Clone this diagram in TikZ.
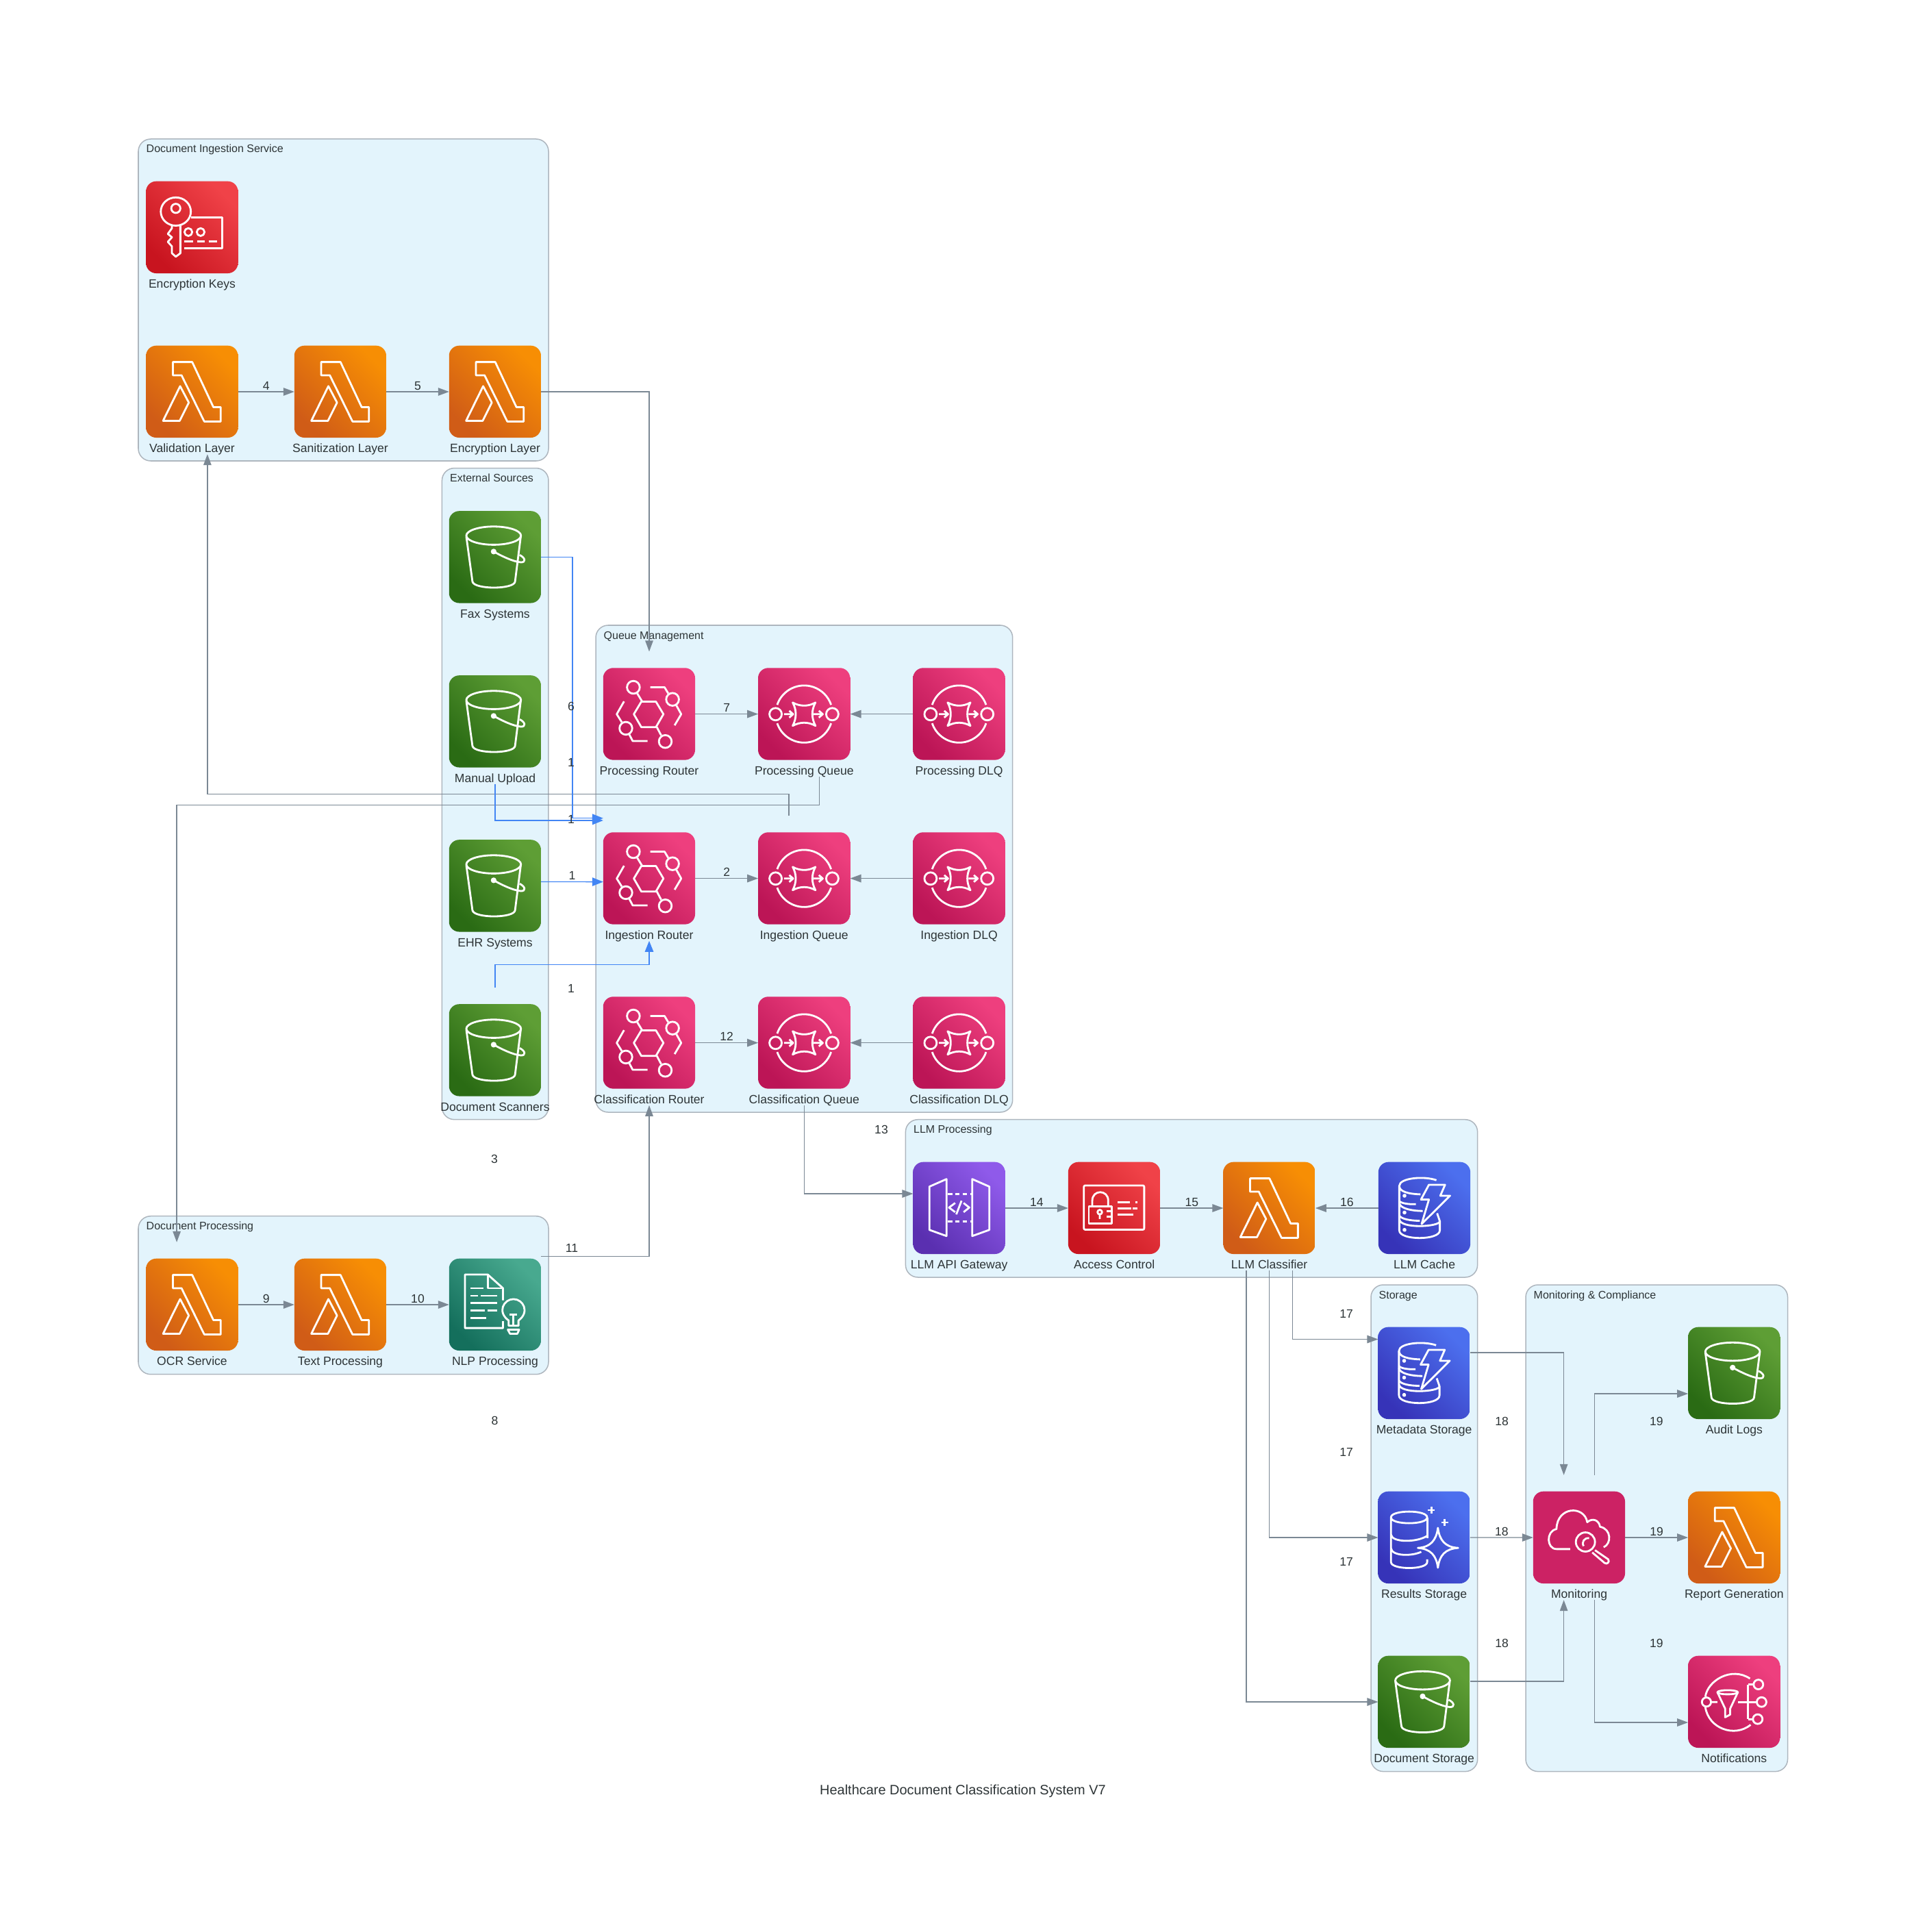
\documentclass[tikz,border=0pt]{standalone}
\usepackage{fontspec}
\setmainfont{Liberation Sans}
\usetikzlibrary{positioning,calc,arrows.meta}
\definecolor{inktext}{HTML}{2D3436}
\definecolor{edgegray}{HTML}{7B8894}
\definecolor{feedblue}{HTML}{4285F4}
\definecolor{clusterfill}{HTML}{E3F4FC}
\definecolor{clusterline}{HTML}{AEB6BE}
\newcommand{\lambdaglyph}{
  \draw[glyph] (118,72) -- (203,72) -- (296,270) -- (328,270) -- (328,333) -- (256,333) -- (156,130) -- (118,130) -- cycle;
  \draw[glyph] (150,178) -- (75,330) -- (148,330) -- (188,250) -- cycle;
}
\newcommand{\bucketglyph}{
  \draw[glyph] (196,108) ellipse[x radius=120,y radius=40];
  \draw[glyph] (76,112) -- (103,310) .. controls (110,345) and (285,345) .. (290,310) -- (315,112);
  \draw[glyph,fill=white] (196,178) circle[radius=8];
  \draw[glyph] (196,178) .. controls (230,197) and (280,222) .. (315,225) .. controls (340,226) and (335,205) .. (310,193);
}
\newcommand{\routerglyph}{
  \draw[glyph] (232,148) -- (265,203) -- (232,260) -- (168,260) -- (135,203) -- (168,148) -- cycle;
  \draw[glyph] (133,85) circle[radius=28] (305,138) circle[radius=28] (100,265) circle[radius=28] (273,323) circle[radius=28];
  \draw[glyph] (150,112) -- (172,148) (236,260) -- (255,296);
  \draw[glyph] (207,85) -- (270,85) -- (286,112) (322,165) -- (343,203) -- (314,252);
  \draw[glyph] (92,147) -- (60,203) -- (82,238) (115,292) -- (130,321) -- (195,321);
}
\newcommand{\queueglyph}{
  \draw[glyph] (84,162) arc[start angle=198.7,end angle=341.3,radius=125];
  \draw[glyph] (84,243) arc[start angle=161.3,end angle=18.7,radius=125];
  \draw[glyph] (77,203) circle[radius=27] (326,203) circle[radius=27];
  \draw[glyph] (152,152) .. controls (185,170) and (220,170) .. (252,152) .. controls (234,185) and (234,220) .. (252,254) .. controls (220,236) and (185,236) .. (152,254) .. controls (170,220) and (170,185) .. (152,152) -- cycle;
  \draw[glyph] (114,203) -- (152,203) (137,188) -- (154,203) -- (137,218);
  \draw[glyph] (244,203) -- (284,203) (267,188) -- (284,203) -- (267,218);
}
\newcommand{\gateglyph}{
  \draw[glyph] (147,75) -- (72,108) -- (72,298) -- (147,325) -- cycle;
  \draw[glyph] (260,75) -- (335,108) -- (335,298) -- (260,325) -- cycle;
  \draw[glyph,line cap=butt,dash pattern=on 1.9pt off 1.2pt] (152,141) -- (258,141) (152,260) -- (258,260);
  \draw[glyph] (185,180) -- (158,200) -- (185,220) (222,180) -- (247,200) -- (222,220) (213,170) -- (190,230);
}
\newcommand{\cardglyph}{
  \draw[glyph,rounded corners=.02cm] (69,103) rectangle (334,297);
  \draw[glyph] (91,195) rectangle (191,270);
  \draw[glyph] (106,195) -- (106,170) .. controls (106,120) and (176,120) .. (176,170) -- (176,195);
  \draw[glyph] (139,220) circle[radius=10] (139,230) -- (139,250);
  \draw[glyph] (170,217) -- (191,217) (170,240) -- (191,240);
  \draw[glyph] (217,176) -- (271,176) (294,176) -- (304,176) (217,203) -- (276,203) (284,203) -- (304,203) (217,230) -- (287,230);
}
\newcommand{\keyglyph}{
  \draw[glyph] (131,133) ellipse[x radius=66,y radius=62];
  \draw[glyph] (131,119) circle[radius=20];
  \draw[glyph] (151,192) -- (151,316) -- (131,331) -- (114,316) -- (114,286) -- (96,266) -- (114,246) -- (96,231) -- (114,206) -- (114,191);
  \draw[glyph] (197,158) -- (334,158) -- (334,293) -- (167,293);
  \draw[glyph] (186,223) circle[radius=17] (240,223) circle[radius=17];
  \draw[glyph] (169,264) -- (206,264) (224,264) -- (258,264) (275,264) -- (312,264);
}
\newcommand{\dynamoglyph}{
  \draw[glyph] (255,80) .. controls (200,60) and (92,70) .. (92,105) .. controls (92,130) and (130,140) .. (185,142);
  \draw[glyph] (92,105) -- (92,300) .. controls (92,345) and (270,345) .. (270,300) -- (270,260) .. controls (270,285) and (92,295) .. (92,250);
  \draw[glyph] (92,170) .. controls (95,180) and (130,187) .. (165,185);
  \draw[glyph] (92,180) .. controls (95,205) and (150,215) .. (195,215);
  \draw[glyph] (92,235) .. controls (100,250) and (140,258) .. (182,258);
  \draw[glyph] (258,225) -- (270,260);
  \draw[glyph,fill=white] (115,148) circle[radius=5] (115,222) circle[radius=5] (115,298) circle[radius=5];
  \draw[glyph] (222,100) -- (293,100) -- (272,148) -- (315,148) -- (190,272) -- (222,165) -- (187,165) -- cycle;
}
\newcommand{\sparkleglyph}{
  \draw[glyph] (57,114) .. controls (57,80) and (216,80) .. (216,114) .. controls (216,148) and (57,148) .. (57,114) -- (57,310) .. controls (57,345) and (216,345) .. (216,310) -- (216,298);
  \draw[glyph] (216,114) -- (216,205);
  \draw[glyph] (57,190) .. controls (62,225) and (170,225) .. (216,195);
  \draw[glyph] (57,250) .. controls (62,285) and (150,285) .. (190,265);
  \draw[glyph] (263,160) .. controls (270,215) and (295,245) .. (352,248) .. controls (295,252) and (270,280) .. (263,335) .. controls (256,280) and (230,252) .. (175,248) .. controls (230,245) and (256,215) .. (263,160) -- cycle;
  \draw[glyph] (235,67) -- (235,97) (220,82) -- (250,82) (293,121) -- (293,151) (278,136) -- (308,136);
}
\newcommand{\watchglyph}{
  \draw[glyph] (163,253) -- (103,253) .. controls (60,253) and (55,175) .. (103,165) .. controls (105,65) and (225,60) .. (238,135) .. controls (260,115) and (290,125) .. (294,155) .. controls (345,165) and (345,230) .. (310,245);
  \draw[glyph] (230,222) circle[radius=42];
  \draw[glyph] (222,240) .. controls (212,222) and (225,203) .. (246,205);
  \draw[glyph] (272,258) -- (330,298) .. controls (338,310) and (325,322) .. (314,314) -- (260,268);
}
\newcommand{\topicglyph}{
  \draw[glyph] (272,100) .. controls (190,45) and (85,110) .. (76,180);
  \draw[glyph] (76,225) .. controls (90,320) and (205,360) .. (275,303);
  \draw[glyph] (81,203) circle[radius=20] (101,203) -- (129,203);
  \draw[glyph] (174,160) ellipse[x radius=45,y radius=9];
  \draw[glyph] (129,160) -- (163,232) -- (163,270) -- (185,258) -- (185,232) -- (219,160);
  \draw[glyph] (219,203) -- (302,203) (264,126) -- (264,278) (264,126) -- (288,126) (264,278) -- (285,278);
  \draw[glyph] (309,126) circle[radius=21] (323,203) circle[radius=21] (306,278) circle[radius=21];
}
\newcommand{\nlpglyph}{
  \draw[glyph] (237,183) -- (237,130) -- (170,70) -- (70,70) -- (70,305) -- (237,305) -- (237,275);
  \draw[glyph] (170,70) -- (170,130) -- (237,130);
  \draw[glyph] (95,130) -- (152,130) (95,163) -- (127,163) (140,163) -- (212,163) (95,196) -- (212,196) (95,229) -- (157,229) (170,229) -- (212,229) (95,262) -- (163,262);
  \draw[glyph] (262,295) -- (262,272) .. controls (210,235) and (240,178) .. (283,178) .. controls (326,178) and (356,235) .. (305,272) -- (305,295) -- cycle;
  \draw[glyph] (265,245) -- (300,245) (283,245) -- (283,295);
  \draw[glyph] (258,312) -- (308,312) -- (300,330) -- (268,330) -- cycle;
}
\tikzset{
  glyph/.style={draw=white,line width=.8pt,line join=round},
  lbl/.style={font=\fontsize{5}{6}\selectfont,text=inktext,inner sep=0pt,text height=.13cm,text depth=.04cm,yshift=-.842cm},
  num/.style={font=\fontsize{5}{6}\selectfont,text=inktext,inner sep=.02cm,text height=.125cm,text depth=0pt},
  clbl/.style={font=\fontsize{4.55}{6}\selectfont,text=inktext,inner sep=0pt,anchor=base west,xshift=.11cm,yshift=-.2cm},
  cluster/.style={draw=clusterline,fill=clusterfill,line width=.43pt,rounded corners=.18cm,inner sep=0pt,outer sep=0pt,label={[clbl]north west:#1}},
  svc/.style={minimum width=1.344cm,minimum height=1.824cm,inner sep=0pt,outer sep=0pt,label={[lbl]center:#1}},
  awsicon/.style n args={3}{path picture={
    \begin{scope}[x=.0033333cm,y=-.0033333cm]
      \pgftransformshift{\pgfpoint{-.6733cm}{.6733cm}}
      \path[rounded corners=.15cm,bottom color=#1,top color=#2,shading angle=-45] (0,0) rectangle (404,404);
      #3
    \end{scope}}},
  lambdaicon/.style={awsicon={lambdalow}{lambdahigh}{\lambdaglyph}},
  bucketicon/.style={awsicon={bucketlow}{buckethigh}{\bucketglyph}},
  routericon/.style={awsicon={pinklow}{pinkhigh}{\routerglyph}},
  queueicon/.style={awsicon={pinklow}{pinkhigh}{\queueglyph}},
  topicicon/.style={awsicon={pinklow}{pinkhigh}{\topicglyph}},
  watchicon/.style={awsicon={watchpink}{watchpink}{\watchglyph}},
  gateicon/.style={awsicon={gatelow}{gatehigh}{\gateglyph}},
  cardicon/.style={awsicon={redlow}{redhigh}{\cardglyph}},
  keyicon/.style={awsicon={redlow}{redhigh}{\keyglyph}},
  dynamoicon/.style={awsicon={dblow}{dbhigh}{\dynamoglyph}},
  sparkleicon/.style={awsicon={dblow}{dbhigh}{\sparkleglyph}},
  nlpicon/.style={awsicon={teallow}{tealhigh}{\nlpglyph}},
  flow/.style={draw=edgegray,line width=.38pt,-{Triangle[length=.16cm,width=.115cm]}},
  feed/.style={draw=feedblue,line width=.38pt,-{Triangle[length=.16cm,width=.125cm]}}
}
\definecolor{lambdalow}{HTML}{D05C17}
\definecolor{lambdahigh}{HTML}{F78E04}
\definecolor{bucketlow}{HTML}{2A6B14}
\definecolor{buckethigh}{HTML}{5E9E35}
\definecolor{pinklow}{HTML}{BC1556}
\definecolor{pinkhigh}{HTML}{EE3F7E}
\definecolor{watchpink}{HTML}{CC2264}
\definecolor{gatelow}{HTML}{5A2FB0}
\definecolor{gatehigh}{HTML}{8F5AEA}
\definecolor{redlow}{HTML}{C8141F}
\definecolor{redhigh}{HTML}{F04248}
\definecolor{dblow}{HTML}{3633B8}
\definecolor{dbhigh}{HTML}{4C6FEE}
\definecolor{teallow}{HTML}{146F5C}
\definecolor{tealhigh}{HTML}{48A98F}

\begin{document}
\begin{tikzpicture}
  \useasboundingbox (0,0) rectangle (28.13,-28.21);

  \node[cluster=Document Ingestion Service,minimum width=5.99cm,minimum height=4.7cm] (ingestsvc) at (5.015,-4.38) {};
  \node[cluster=External Sources,minimum width=1.555cm,minimum height=9.511cm] (externalsrc) at (7.232,-11.591) {};
  \node[cluster=Queue Management,minimum width=6.087cm,minimum height=7.11cm] (queuemgmt) at (11.7435,-12.685) {};
  \node[cluster=LLM Processing,minimum width=8.352cm,minimum height=2.303cm] (llmproc) at (17.4,-17.4985) {};
  \node[cluster=Document Processing,minimum width=5.99cm,minimum height=2.31cm] (docproc) at (5.015,-18.912) {};
  \node[cluster=Storage,minimum width=1.557cm,minimum height=7.106cm] (storage) at (20.7985,-22.313) {};
  \node[cluster=Monitoring \& Compliance,minimum width=3.825cm,minimum height=7.106cm] (compliance) at (24.1925,-22.313) {};

  \node[svc=Validation Layer,lambdaicon] (validation) at (2.805,-5.72) {};
  \node[svc=Sanitization Layer,lambdaicon,right of=validation,xshift=1.165cm] (sanitization) {};
  \node[svc=Encryption Layer,lambdaicon,right of=sanitization,xshift=1.26cm] (enclayer) {};
  \node[svc=Encryption Keys,keyicon,above of=validation,yshift=1.4cm] (enckeys) {};

  \node[svc=Fax Systems,bucketicon] (fax) at (7.23,-8.135) {};
  \node[svc=Manual Upload,bucketicon,below of=fax,yshift=-1.4cm] (manual) {};
  \node[svc=EHR Systems,bucketicon,below of=manual,yshift=-1.4cm] (ehr) {};
  \node[svc=Document Scanners,bucketicon,below of=ehr,yshift=-1.4cm] (scanners) {};

  \node[svc=Processing Router,routericon] (procrouter) at (9.48,-10.426) {};
  \node[svc=Processing Queue,queueicon,right of=procrouter,xshift=1.263cm] (procqueue) {};
  \node[svc=Processing DLQ,queueicon,right of=procqueue,xshift=1.263cm] (procdlq) {};
  \node[svc=Ingestion Router,routericon,below of=procrouter,yshift=-1.4cm] (ingrouter) {};
  \node[svc=Ingestion Queue,queueicon,right of=ingrouter,xshift=1.263cm] (ingqueue) {};
  \node[svc=Ingestion DLQ,queueicon,right of=ingqueue,xshift=1.263cm] (ingdlq) {};
  \node[svc=Classification Router,routericon,below of=ingrouter,yshift=-1.4cm] (classrouter) {};
  \node[svc=Classification Queue,queueicon,right of=classrouter,xshift=1.263cm] (classqueue) {};
  \node[svc=Classification DLQ,queueicon,right of=classqueue,xshift=1.263cm] (classdlq) {};

  \node[svc=LLM API Gateway,gateicon] (gateway) at (14.006,-17.64) {};
  \node[svc=Access Control,cardicon,right of=gateway,xshift=1.265cm] (access) {};
  \node[svc=LLM Classifier,lambdaicon,right of=access,xshift=1.265cm] (classifier) {};
  \node[svc=LLM Cache,dynamoicon,right of=classifier,xshift=1.265cm] (cache) {};

  \node[svc=OCR Service,lambdaicon] (ocr) at (2.805,-19.05) {};
  \node[svc=Text Processing,lambdaicon,right of=ocr,xshift=1.165cm] (textproc) {};
  \node[svc=NLP Processing,nlpicon,right of=textproc,xshift=1.26cm] (nlp) {};

  \node[svc=Metadata Storage,dynamoicon] (metadata) at (20.796,-20.05) {};
  \node[svc=Results Storage,sparkleicon,below of=metadata,yshift=-1.4cm] (results) {};
  \node[svc=Document Storage,bucketicon,below of=results,yshift=-1.4cm] (docstore) {};

  \node[svc=Monitoring,watchicon] (monitoring) at (23.06,-22.45) {};
  \node[svc=Report Generation,lambdaicon,right of=monitoring,xshift=1.263cm] (report) {};
  \node[svc=Audit Logs,bucketicon,above of=report,yshift=1.4cm] (audit) {};
  \node[svc=Notifications,topicicon,below of=report,yshift=-1.4cm] (notify) {};

  \draw[flow] (validation) -- node[num,above] {4} (sanitization);
  \draw[flow] (sanitization) -- node[num,above] {5} (enclayer);
  \draw[flow] (enclayer.east) -| (procrouter.north);
  \draw[flow] (procrouter) -- node[num,above] {7} (procqueue);
  \draw[flow] (procdlq) -- (procqueue);
  \draw[flow] (ingrouter) -- node[num,above] {2} (ingqueue);
  \draw[flow] (ingdlq) -- (ingqueue);
  \draw[flow] (classrouter) -- node[num,above] {12} (classqueue);
  \draw[flow] (classdlq) -- (classqueue);
  \draw[flow] ($(ingqueue.north)+(-.224,0)$) -- ++(0,.316) -| ($(validation.south)+(.224,0)$);
  \draw[flow] ($(procqueue.south)+(.224,0)$) -- ++(0,-.417) -| ($(ocr.north)+(-.224,0)$);
  \draw[flow] (ocr) -- node[num,above] {9} (textproc);
  \draw[flow] (textproc) -- node[num,above] {10} (nlp);
  \draw[flow] ($(nlp.east)+(0,.703)$) -| (classrouter.south);
  \draw[flow] (classqueue.south) |- ($(gateway.west)+(0,.21)$);
  \draw[flow] (gateway) -- node[num,above] {14} (access);
  \draw[flow] (access) -- node[num,above] {15} (classifier);
  \draw[flow] (cache) -- node[num,above] {16} (classifier);
  \draw[flow] ($(classifier.south)+(.336,0)$) |- ($(metadata.west)+(0,.495)$);
  \draw[flow] (classifier.south) |- (results.west);
  \draw[flow] ($(classifier.south)+(-.336,0)$) |- (docstore.west);
  \draw[flow] ($(metadata.east)+(0,.3)$) -| ($(monitoring.north)+(-.224,0)$);
  \draw[flow] (results) -- node[num,above] {18} (monitoring);
  \draw[flow] ($(docstore.east)+(0,.3)$) -| ($(monitoring.south)+(-.224,0)$);
  \draw[flow] ($(monitoring.north)+(.224,0)$) |- ($(audit.west)+(0,-.3)$);
  \draw[flow] (monitoring) -- node[num,above] {19} (report);
  \draw[flow] ($(monitoring.south)+(.224,0)$) |- ($(notify.west)+(0,-.3)$);

  \draw[feed] (fax.east) -- ++(.458,0) |- ($(ingrouter.north west)+(0,-.033)$);
  \draw[feed] (manual.south) |- ($(ingrouter.north west)+(0,-.066)$);
  \draw[feed] ($(ehr.east)+(0,.06)$) -- node[num,above] {1} ($(ingrouter.west)+(0,-.05)$);
  \draw[feed] (scanners.north) -- ++(0,.34) -| (ingrouter.south);

  \node[num] (lab6) at (8.34,-10.31) {6};
  \node[num] (labfax) at (8.34,-11.13) {1};
  \node[num] (labmanual) at (8.34,-11.965) {1};
  \node[num] (labscan) at (8.34,-14.43) {1};
  \node[num] (lab3) at (7.22,-16.92) {3};
  \node[num] (lab8) at (7.226,-20.74) {8};
  \node[num] (lab11) at (8.35,-18.22) {11};
  \node[num] (lab13) at (12.87,-16.49) {13};
  \node[num] (lab17a) at (19.66,-19.186) {17};
  \node[num] (lab17b) at (19.66,-21.2) {17};
  \node[num] (lab17c) at (19.66,-22.807) {17};
  \node[num] (lab18a) at (21.93,-20.757) {18};
  \node[num] (lab18b) at (21.93,-23.99) {18};
  \node[num] (lab19a) at (24.188,-20.757) {19};
  \node[num] (lab19b) at (24.188,-23.99) {19};

  \node[font=\fontsize{5.67}{7}\selectfont,text=inktext,inner sep=0pt] (title) at (14.06,-26.15) {Healthcare Document Classification System V7};
\end{tikzpicture}
\end{document}
